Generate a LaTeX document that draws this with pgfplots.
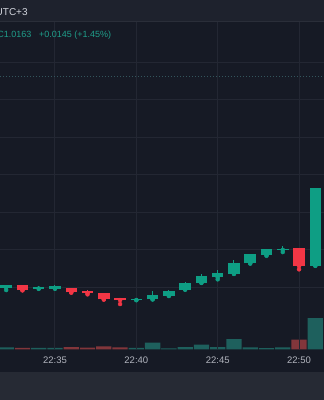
\documentclass[border=0pt]{standalone}
\usepackage{pgfplots}
\pgfplotsset{compat=1.18}
\usepackage{pgfplotstable}
\usepackage{fontspec}
\setmainfont{Liberation Sans}
\definecolor{bg}{HTML}{161A25}
\definecolor{topbar}{HTML}{1E222D}
\definecolor{botbar}{HTML}{262A34}
\definecolor{sep}{HTML}{2A2E39}
\definecolor{gridc}{HTML}{232733}
\definecolor{up}{HTML}{0E9E84}
\definecolor{down}{HTML}{F23645}
\definecolor{volup}{HTML}{1E605D}
\definecolor{voldown}{HTML}{82363B}
\definecolor{txt}{HTML}{D1D4DC}
\definecolor{lbl}{HTML}{B2B5BE}
\definecolor{leg}{HTML}{1F9E8A}
\definecolor{pline}{HTML}{33555C}
% prices in pips above 1.0000 (163.0 = 1.0163), volume in relative units
\pgfplotstableread{
t o h l c v
32 136.47 137.27 135.80 137.13 2.0
34 136.20 136.79 136.12 136.65 1.5
35 136.20 137.05 136.15 136.79 1.5
40 133.13 133.50 133.10 133.45 1.5
41 133.32 135.61 133.30 134.55 6.7
42 134.28 135.70 134.20 135.61 1.0
43 135.93 137.85 135.90 137.80 2.3
44 137.75 140.20 137.70 139.45 4.7
45 139.19 141.21 138.65 140.47 2.3
46 140.12 143.80 140.10 143.13 10.3
47 142.92 145.40 142.85 145.32 2.0
48 145.08 146.75 144.92 146.68 1.3
49 146.50 147.67 145.93 146.77 2.0
51 142.30 163.10 142.25 163.00 31.3
}\upcandles
\pgfplotstableread{
t o h l c v
33 137.13 137.20 135.70 135.80 1.5
36 136.25 136.30 135.10 135.19 2.3
37 135.45 135.80 134.65 134.95 1.7
38 135.05 135.10 133.25 133.32 3.0
39 133.59 133.60 132.07 133.13 2.0
50 146.92 147.00 141.32 142.20 9.7
}\downcandles
\begin{document}
\begin{tikzpicture}
\useasboundingbox (0,0) rectangle (324pt,400pt);
\clip (0,0) rectangle (324pt,400pt);
\fill[bg] (0,0) rectangle (324pt,400pt);
\fill[topbar] (0,378.5pt) rectangle (324pt,400pt);
\draw[sep, line width=1pt] (0,378.5pt) -- (324pt,378.5pt);
\fill[botbar] (0,0) rectangle (324pt,28pt);
% volume
\begin{axis}[at={(0pt,50.7pt)}, anchor=south west, scale only axis,
  width=324pt, height=100pt, xmin=31.62, xmax=51.534, ymin=0, ymax=100,
  hide axis, ybar, bar width=15.3pt]
\addplot[fill=volup, draw=none, bar shift=0pt] table[x=t,y=v]{\upcandles};
\addplot[fill=voldown, draw=none, bar shift=0pt] table[x=t,y=v]{\downcandles};
\end{axis}
% price
\begin{axis}[at={(0pt,50.7pt)}, anchor=south west, scale only axis,
  width=324pt, height=327.3pt, xmin=31.62, xmax=51.534, ymin=120, ymax=207.27,
  axis line style={draw=none}, tick style={draw=none},
  xtick={35,40,45,50}, xticklabels={22:35,22:40,22:45,22:50},
  xticklabel style={anchor=base, yshift=-14.7pt, font=\fontsize{9.5}{11}\selectfont, text=lbl},
  ytick={136.6,146.6,156.6,166.6,176.6,186.6,196.6}, yticklabels={},
  xmajorgrids, ymajorgrids, grid style={gridc, line width=1pt}]
\addplot[pline, dash pattern=on 1pt off 2pt, line width=1pt] coordinates {(31.62,192.87) (51.534,192.87)};
\addplot[up, only marks, mark=none, error bars/.cd, y dir=plus, y explicit, error mark=none,
  error bar style={line width=1pt, up}] table[x=t, y=l, y error plus expr=\thisrow{h}-\thisrow{l}] {\upcandles};
\addplot[up, only marks, mark=none, error bars/.cd, y dir=plus, y explicit, error mark=none,
  error bar style={line width=11.5pt, up}] table[x=t, y=o, y error plus expr=\thisrow{c}-\thisrow{o}] {\upcandles};
\addplot[down, only marks, mark=none, error bars/.cd, y dir=plus, y explicit, error mark=none,
  error bar style={line width=1pt, down}] table[x=t, y=l, y error plus expr=\thisrow{h}-\thisrow{l}] {\downcandles};
\addplot[down, only marks, mark=none, error bars/.cd, y dir=plus, y explicit, error mark=none,
  error bar style={line width=11.5pt, down}] table[x=t, y=c, y error plus expr=\thisrow{o}-\thisrow{c}] {\downcandles};
\end{axis}
\node[anchor=base west, inner sep=0, text=txt, font=\fontsize{10}{12}\selectfont] at (-4.5pt,384pt) {UTC+3};
\node[anchor=base west, inner sep=0, text=leg, font=\fontsize{9}{11}\selectfont] at (-2.8pt,362.7pt) {C1.0163};
\node[anchor=base west, inner sep=0, text=leg, font=\fontsize{9}{11}\selectfont] at (39pt,362.7pt) {+0.0145 (+1.45\%)};
\end{tikzpicture}
\end{document}
